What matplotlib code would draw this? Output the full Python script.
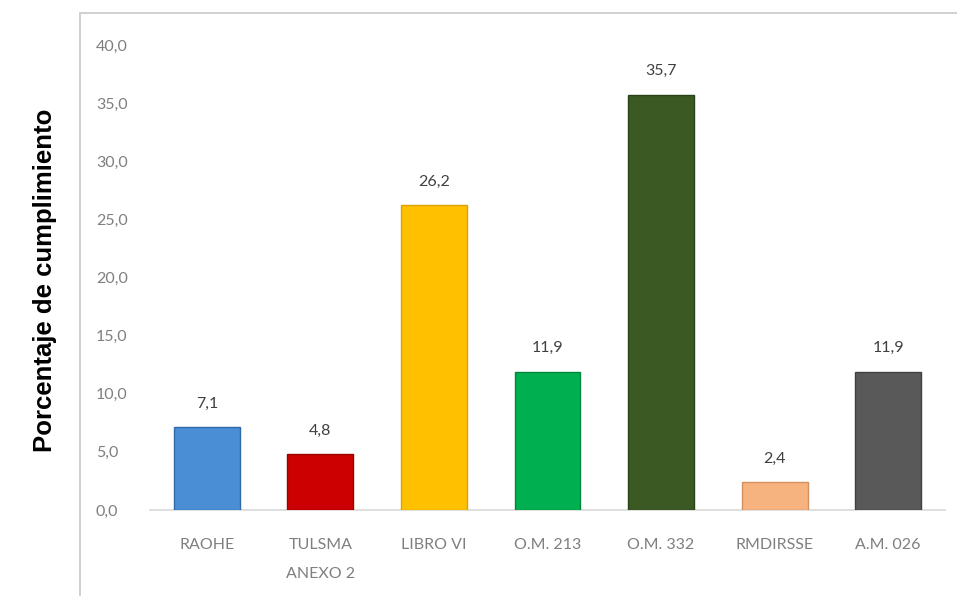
import matplotlib.pyplot as plt
from matplotlib.patches import Rectangle

categorias = ["RAOHE", "TULSMA\nANEXO 2", "LIBRO VI", "O.M. 213", "O.M. 332", "RMDIRSSE", "A.M. 026"]
valores = [7.1, 4.8, 26.2, 11.9, 35.7, 2.4, 11.9]
colores = ["#4a8fd6", "#cc0000", "#ffc000", "#00b050", "#3b5a23", "#f6b27f", "#595959"]
bordes = ["#2f6aa8", "#990000", "#d9a300", "#00873c", "#2a4218", "#d48f5c", "#404040"]
yticks = [0, 5, 10, 15, 20, 25, 30, 35, 40]

fig = plt.figure(figsize=(9.57, 5.96), dpi=100)
W, H = 957, 596

# marco del grafico
fig.patches.append(Rectangle((80 / W, -0.01), 1.0, (596 - 13) / H + 0.01, transform=fig.transFigure,
                             fill=False, edgecolor="#d0d0d0", linewidth=1.4))

ax = fig.add_axes([150 / W, (H - 510) / H, (945 - 150) / W, (510 - 45) / H])
x = range(len(categorias))
ax.bar(x, valores, width=0.58, color=colores, edgecolor=bordes, linewidth=1.0, zorder=3)

for xi, v in zip(x, valores):
    ax.annotate(f"{v:.1f}".replace(".", ","), (xi, v), xytext=(0, 12), textcoords="offset points",
                ha="center", va="bottom", fontsize=11.5, color="#404040", family="Lato")

ax.set_ylim(0, 40)
ax.set_xlim(-0.5, len(categorias) - 0.5)
ax.set_yticks(yticks)
ax.set_yticklabels([f"{t:.1f}".replace(".", ",") for t in yticks], family="Lato", fontsize=11.5, color="#7f7f7f")
ax.set_xticks(list(x))
ax.set_xticklabels(categorias, family="Lato", fontsize=11.5, color="#7f7f7f", linespacing=2.4)
ax.tick_params(axis="both", length=0)
ax.tick_params(axis="x", pad=20)
for s in ["top", "right", "left"]:
    ax.spines[s].set_visible(False)
ax.spines["bottom"].set_color("#d9d9d9")
ax.spines["bottom"].set_linewidth(1.2)
for lab in ax.get_yticklabels():
    lab.set_horizontalalignment("left")
ax.tick_params(axis="y", pad=39)

fig.text(45 / W, (H - 280) / H, "Porcentaje de cumplimiento", rotation=90, ha="center", va="center",
         fontsize=18.5, fontweight="bold", family="Liberation Sans", color="black")

fig.savefig("out.png", dpi=100)
